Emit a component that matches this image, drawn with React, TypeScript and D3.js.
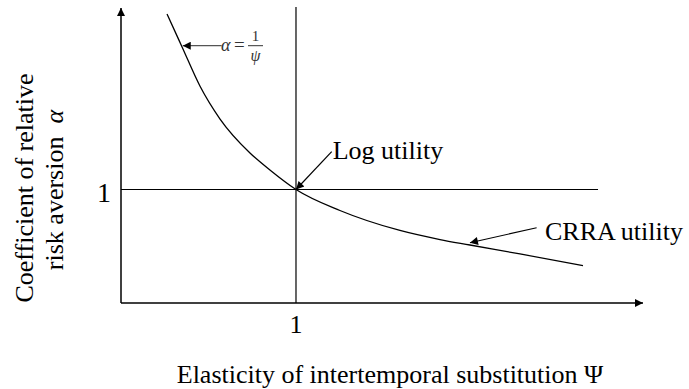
import React from "react";
import * as d3 from "d3";

// Curve alpha(psi)
const psiValues = [0.263, 0.349, 0.451, 0.566, 0.737, 0.851, 1.0, 1.251, 1.594, 1.823, 1.994, 2.28, 2.64];
const alphaValues = [2.546, 2.256, 1.912, 1.621, 1.322, 1.172, 1.0, 0.815, 0.639, 0.559, 0.511, 0.432, 0.33];

// Axis extents and reference lines (data units)
const xMax = [2.983];
const yMax = [2.6];
const refPsi = [1];
const refAlpha = [1];
const refLineEnds = [2.726]; // horizontal alpha=1 line ends here
const xTickLabels = ["1"];
const yTickLabels = ["1"];

// annotation arrows: [fromPsi, fromAlpha, toPsi, toAlpha]
const logArrow = [1.204, 1.333, 1.0, 1.0];
const crraArrow = [2.375, 0.663, 1.994, 0.531];
const alphaArrow = [0.575, 2.267, 0.353, 2.267];

const W = 689;
const H = 389;
const FONT = "'Liberation Serif', 'Times New Roman', serif";

export default function App() {
  const x = d3.scaleLinear().domain([0, xMax[0]]).range([121, 643]);
  const y = d3.scaleLinear().domain([0, yMax[0]]).range([303, 303 - 113.5 * yMax[0]]);

  const pts: [number, number][] = psiValues.map((p, i) => [p, alphaValues[i]]);
  const line = d3
    .line<[number, number]>()
    .x((d) => x(d[0]))
    .y((d) => y(d[1]))
    .curve(d3.curveMonotoneX);

  const arrowLine = (a: number[], marker: string, color: string, w: number) => (
    <line
      x1={x(a[0])}
      y1={y(a[1])}
      x2={x(a[2])}
      y2={y(a[3])}
      stroke={color}
      strokeWidth={w}
      markerEnd={`url(#${marker})`}
    />
  );

  return (
    <svg
      width={W}
      height={H}
      style={{ position: "absolute", left: 0, top: 0, background: "#fff" }}
      fontFamily={FONT}
    >
      <defs>
        <marker id="axisHead" viewBox="0 0 10 10" refX="10" refY="5" markerWidth="8" markerHeight="8" markerUnits="userSpaceOnUse" orient="auto">
          <path d="M0,0 L10,5 L0,10 Z" fill="#000" />
        </marker>
        <marker id="annHead" viewBox="0 0 10 10" refX="10" refY="5" markerWidth="10" markerHeight="8" markerUnits="userSpaceOnUse" orient="auto">
          <path d="M0,0 L10,5 L0,10 Z" fill="#000" />
        </marker>
        <marker id="alphaHead" viewBox="0 0 10 10" refX="10" refY="5" markerWidth="9" markerHeight="8" markerUnits="userSpaceOnUse" orient="auto">
          <path d="M0,0 L10,5 L0,10 Z" fill="#000" />
        </marker>
      </defs>

      {/* axes */}
      <line x1={x(0)} y1={y(0)} x2={x(0)} y2={y(yMax[0])} stroke="#000" strokeWidth={1.5} markerEnd="url(#axisHead)" />
      <line x1={x(0)} y1={y(0)} x2={x(xMax[0])} y2={y(0)} stroke="#000" strokeWidth={1.5} markerEnd="url(#axisHead)" />

      {/* reference lines */}
      <line x1={x(refPsi[0])} y1={y(0)} x2={x(refPsi[0])} y2={y(yMax[0]) - 1} stroke="#000" strokeWidth={1.2} />
      <line x1={x(0)} y1={y(refAlpha[0])} x2={x(refLineEnds[0])} y2={y(refAlpha[0])} stroke="#000" strokeWidth={1.2} />

      {/* curve */}
      <path d={line(pts) || ""} fill="none" stroke="#000" strokeWidth={1.3} />

      {/* tick labels */}
      <text x={x(refPsi[0])} y={333} fontSize={26} textAnchor="middle">{xTickLabels[0]}</text>
      <text x={104} y={y(refAlpha[0]) + 12} fontSize={28} textAnchor="middle">{yTickLabels[0]}</text>

      {/* axis titles */}
      <text x={390} y={383} fontSize={26} textAnchor="middle">Elasticity of intertemporal substitution Ψ</text>
      <g transform="translate(33,188) rotate(-90)">
        <text x={0} y={0} fontSize={26} textAnchor="middle">Coefficient of relative</text>
      </g>
      <g transform="translate(63,190) rotate(-90)">
        <text x={0} y={0} fontSize={26} textAnchor="middle">risk aversion{"\u2002"}<tspan fontStyle="italic">α</tspan></text>
      </g>

      {/* annotations */}
      {arrowLine(logArrow, "annHead", "#000", 1.2)}
      <text x={x(logArrow[0]) + 1} y={159} fontSize={26}>Log utility</text>

      {arrowLine(crraArrow, "annHead", "#000", 1.1)}
      <text x={545} y={240} fontSize={26}>CRRA utility</text>

      {arrowLine(alphaArrow, "alphaHead", "#555", 1.3)}
      <text x={x(alphaArrow[0]) - 0.5} y={50.5} fontSize={18} fill="#333" fontStyle="italic">α</text>
      <text x={234} y={51} fontSize={19} fill="#333">=</text>
      <text x={255.5} y={40.5} fontSize={15} fill="#333" textAnchor="middle">1</text>
      <line x1={248} y1={45.7} x2={263} y2={45.7} stroke="#333" strokeWidth={1} />
      <text x={255.5} y={61} fontSize={16} fill="#333" textAnchor="middle" fontStyle="italic">ψ</text>
    </svg>
  );
}
